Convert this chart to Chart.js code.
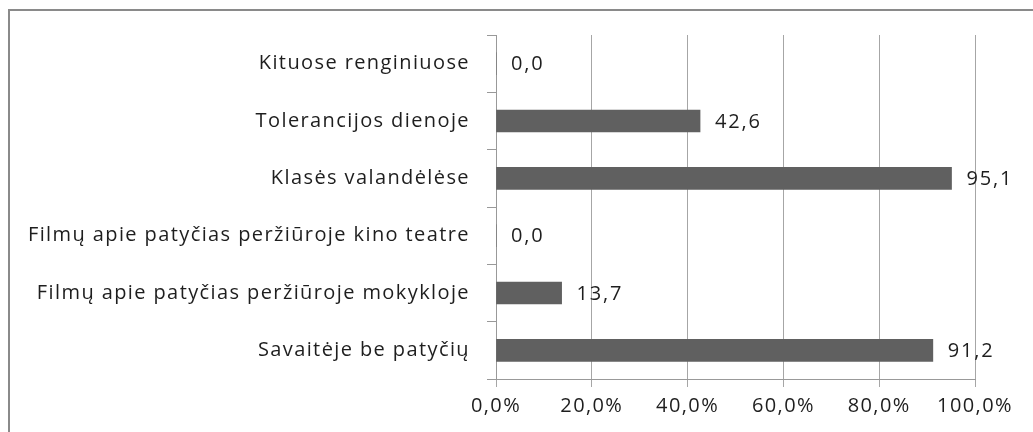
<!DOCTYPE html>
<html>
<head>
<meta charset="utf-8">
<script src="https://cdn.jsdelivr.net/npm/chart.js@4"></script>
<style>
  html, body { margin: 0; padding: 0; background: #fff; overflow: hidden; }
  #frame {
    position: absolute; left: 8px; top: 9px; width: 1100px; height: 500px;
    border-left: 2px solid #8a8a8a; border-top: 2px solid #8a8a8a;
  }
  #wrap { position: absolute; left: 0; top: 0; width: 1033px; height: 432px; }
</style>
</head>
<body>
<div id="frame"></div>
<div id="wrap"><canvas id="chart"></canvas></div>
<script>
const categories = [
    'Kituose renginiuose',
    'Tolerancijos dienoje',
    'Klasės valandėlėse',
    'Filmų apie patyčias peržiūroje kino teatre',
    'Filmų apie patyčias peržiūroje mokykloje',
    'Savaitėje be patyčių'
];
const values = [0.0, 42.6, 95.1, 0.0, 13.7, 91.2];
const xTicks = [0, 20, 40, 60, 80, 100];

const fontFamily = '"Open Sans", "Noto Sans", sans-serif';
const textColor = '#1e1e1e';

const comma = (v) => v.toFixed(1).replace('.', ',');

// the reference text is drawn wide, so widen the canvas text a little
const wideText = {
    id: 'wideText',
    beforeDraw(chart) {
        chart.ctx.letterSpacing = '1.4px';
    }
};

const valueLabels = {
    id: 'valueLabels',
    afterDatasetsDraw(chart) {
        const ctx = chart.ctx;
        const meta = chart.getDatasetMeta(0);
        ctx.save();
        ctx.letterSpacing = '1.8px';
        ctx.font = '20px ' + fontFamily;
        ctx.fillStyle = textColor;
        ctx.textAlign = 'left';
        ctx.textBaseline = 'middle';
        meta.data.forEach((bar, i) => {
            ctx.fillText(comma(values[i]), bar.x + 15, bar.y + 1);
        });
        ctx.restore();
    }
};

const ctx = document.getElementById('chart').getContext('2d');
window.barChart = new Chart(ctx, {
    type: 'bar',
    data: {
        labels: categories,
        datasets: [{
            data: values,
            backgroundColor: '#606060',
            borderWidth: 0,
            barThickness: 22
        }]
    },
    options: {
        indexAxis: 'y',
        responsive: true,
        maintainAspectRatio: false,
        animation: false,
        layout: { padding: { left: 0, right: 58, top: 35, bottom: 0 } },
        plugins: { legend: { display: false }, tooltip: { enabled: false } },
        scales: {
            x: {
                min: 0,
                max: 100,
                afterFit: (scale) => { scale.height = 53; },
                afterBuildTicks: (scale) => { scale.ticks = xTicks.map(v => ({ value: v })); },
                grid: { color: '#a6a6a6', lineWidth: 1, tickLength: 8 },
                border: { color: '#999999', width: 1 },
                ticks: {
                    padding: 7,
                    color: textColor,
                    font: { family: fontFamily, size: 20 },
                    callback: (v) => comma(v) + '%'
                }
            },
            y: {
                afterFit: (scale) => { scale.width = 496; },
                grid: { offset: true, drawOnChartArea: false, color: '#999999', tickLength: 9 },
                border: { color: '#999999', width: 1 },
                ticks: {
                    padding: 17,
                    color: textColor,
                    font: { family: fontFamily, size: 20 }
                }
            }
        }
    },
    plugins: [wideText, valueLabels]
});
</script>
</body>
</html>
